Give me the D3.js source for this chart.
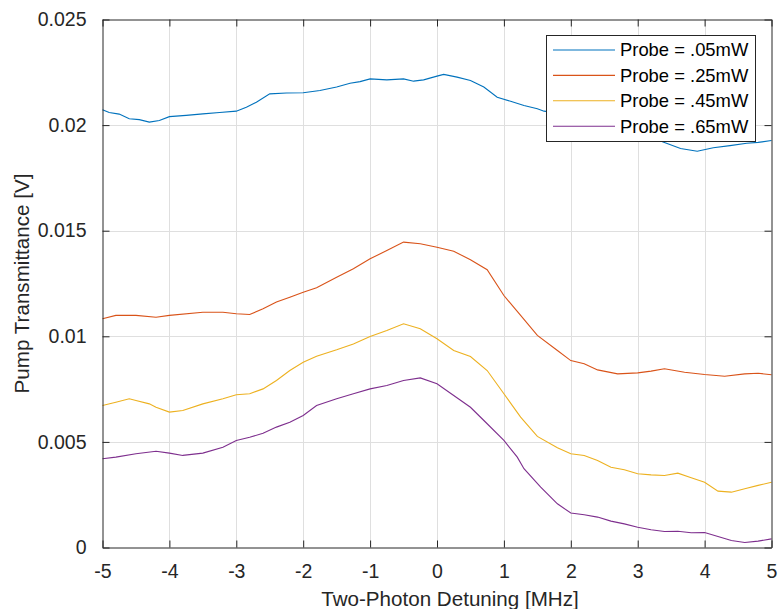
<!DOCTYPE html>
<html>
<head>
<meta charset="utf-8">
<script src="https://cdn.jsdelivr.net/npm/d3@7"></script>
<style>
  body { margin: 0; background: #fff; }
  svg { display: block; font-family: "Liberation Sans", Arial, sans-serif; }
</style>
</head>
<body>
<div class="container"></div>
<script>
// series readings (x in MHz, y in V)
const blueX = [-5, -4.9, -4.75, -4.6, -4.45, -4.3, -4.15, -4.0, -3.75, -3.5, -3.25, -3.0, -2.85, -2.7, -2.5, -2.25, -2.0, -1.75, -1.5, -1.3, -1.15, -1.0, -0.75, -0.5, -0.35, -0.2, 0, 0.1, 0.3, 0.5, 0.7, 0.9, 1.1, 1.3, 1.5, 1.6, 2.0, 2.5, 3.0, 3.38, 3.64, 3.89, 4.13, 4.38, 4.63, 4.8, 5.0]
const blueY = [0.02073, 0.0206, 0.02052, 0.0203, 0.02026, 0.02014, 0.02022, 0.0204, 0.02046, 0.02053, 0.0206, 0.02066, 0.02085, 0.02108, 0.02148, 0.02152, 0.02153, 0.02164, 0.0218, 0.02198, 0.02206, 0.02219, 0.02214, 0.02219, 0.02208, 0.02214, 0.02232, 0.0224, 0.02227, 0.02211, 0.0218, 0.02132, 0.02113, 0.02093, 0.02077, 0.02066, 0.0205, 0.0201, 0.0197, 0.0192, 0.01889, 0.01876, 0.01893, 0.01903, 0.01914, 0.01918, 0.01927]

const orangeX = [-5, -4.8, -4.5, -4.2, -4.0, -3.5, -3.2, -3.0, -2.8, -2.6, -2.4, -2.2, -2.0, -1.8, -1.5, -1.25, -1.0, -0.75, -0.5, -0.25, 0, 0.25, 0.5, 0.75, 1.0, 1.25, 1.5, 1.8, 2.0, 2.2, 2.4, 2.7, 3.0, 3.2, 3.4, 3.7, 4.0, 4.3, 4.6, 4.8, 5.0]
const orangeY = [0.01083, 0.01099, 0.01099, 0.0109, 0.01099, 0.01114, 0.01114, 0.01107, 0.01103, 0.0113, 0.01162, 0.01185, 0.01209, 0.01230, 0.0128, 0.0132, 0.01367, 0.01406, 0.01446, 0.01438, 0.01422, 0.01403, 0.01362, 0.01315, 0.01193, 0.01099, 0.01004, 0.00933, 0.00885, 0.0087, 0.00841, 0.00822, 0.00827, 0.00835, 0.00846, 0.0083, 0.00819, 0.00811, 0.00822, 0.00825, 0.00818]

const yellowX = [-5, -4.8, -4.6, -4.5, -4.3, -4.2, -4.0, -3.8, -3.5, -3.2, -3.0, -2.8, -2.6, -2.4, -2.2, -2.0, -1.8, -1.5, -1.25, -1.0, -0.75, -0.5, -0.25, 0, 0.25, 0.5, 0.75, 1.0, 1.25, 1.5, 1.8, 2.0, 2.2, 2.4, 2.6, 2.8, 3.0, 3.2, 3.4, 3.6, 3.8, 4.0, 4.2, 4.4, 4.6, 4.8, 5.0]
const yellowY = [0.00672, 0.00688, 0.00704, 0.00696, 0.0068, 0.00664, 0.00641, 0.00649, 0.0068, 0.00704, 0.00723, 0.00728, 0.00751, 0.00791, 0.00838, 0.00877, 0.00906, 0.00936, 0.00964, 0.00999, 0.01027, 0.01059, 0.01036, 0.00988, 0.00933, 0.00904, 0.00838, 0.00728, 0.00617, 0.00526, 0.00472, 0.00444, 0.00436, 0.00412, 0.0038, 0.00368, 0.00349, 0.00344, 0.00341, 0.00352, 0.0033, 0.00309, 0.00267, 0.00262, 0.00278, 0.00294, 0.00309]

const purpleX = [-5, -4.8, -4.5, -4.2, -4.0, -3.8, -3.5, -3.2, -3.0, -2.8, -2.6, -2.4, -2.2, -2.0, -1.8, -1.5, -1.25, -1.0, -0.75, -0.5, -0.25, 0, 0.25, 0.5, 0.75, 1.0, 1.2, 1.3, 1.55, 1.8, 2.0, 2.2, 2.4, 2.6, 2.8, 3.0, 3.2, 3.4, 3.6, 3.8, 4.0, 4.2, 4.4, 4.6, 4.8, 5.0]
const purpleY = [0.0042, 0.00428, 0.00444, 0.00456, 0.00447, 0.00436, 0.00447, 0.00475, 0.00507, 0.00522, 0.00541, 0.0057, 0.00593, 0.00625, 0.00672, 0.00704, 0.00728, 0.00751, 0.00767, 0.00791, 0.00803, 0.00775, 0.0072, 0.00664, 0.00586, 0.00507, 0.00428, 0.00373, 0.00286, 0.00207, 0.00163, 0.00155, 0.00144, 0.00125, 0.00112, 0.00096, 0.00084, 0.00076, 0.00077, 0.0007, 0.00071, 0.00052, 0.00033, 0.00024, 0.0003, 0.00041]

const seriesNames = ["Probe = .05mW", "Probe = .25mW", "Probe = .45mW", "Probe = .65mW"]
const xTicks = [-5, -4, -3, -2, -1, 0, 1, 2, 3, 4, 5]
const yTicks = [0, 0.005, 0.01, 0.015, 0.02, 0.025]
const yTickLabels = ["0", "0.005", "0.01", "0.015", "0.02", "0.025"]

const colors = ["#0072BD", "#D95319", "#EDB120", "#7E2F8E"]
const w = 778
const h = 609
const padL = 102.5, padR = 771.5, padT = 19.5, padB = 547.5
const axisColor = "#262626"

const series = [
    [blueX, blueY], [orangeX, orangeY], [yellowX, yellowY], [purpleX, purpleY]
].map(([xs, ys], i) => ({ name: seriesNames[i], color: colors[i], pts: xs.map((x, j) => [x, ys[j]]) }))

const xScale = d3.scaleLinear().domain([-5, 5]).range([padL, padR])
const yScale = d3.scaleLinear().domain([0, 0.025]).range([padB, padT])

const svg = d3.select(".container")
    .append("svg")
    .attr("width", w)
    .attr("height", h)

// grid
svg.append("g")
    .selectAll("line")
    .data(xTicks.slice(1, -1))
    .enter()
    .append("line")
    .attr("x1", d => Math.round(xScale(d)) + 0.5)
    .attr("x2", d => Math.round(xScale(d)) + 0.5)
    .attr("y1", padT)
    .attr("y2", padB)
    .attr("stroke", "#dfdfdf")

svg.append("g")
    .selectAll("line")
    .data(yTicks.slice(1, -1))
    .enter()
    .append("line")
    .attr("y1", d => Math.round(yScale(d)) + 0.5)
    .attr("y2", d => Math.round(yScale(d)) + 0.5)
    .attr("x1", padL)
    .attr("x2", padR)
    .attr("stroke", "#dfdfdf")

// data lines
const line = d3.line()
    .x(d => xScale(d[0]))
    .y(d => yScale(d[1]))

svg.append("g")
    .selectAll("path")
    .data(series)
    .enter()
    .append("path")
    .attr("d", d => line(d.pts))
    .attr("fill", "none")
    .attr("stroke", d => d.color)
    .attr("stroke-width", 1.1)

// axes: bottom/left with labels, top/right ticks only (box on, ticks inward)
const tickLen = 7
svg.append("g")
    .attr("transform", `translate(0, ${padB})`)
    .call(d3.axisBottom(xScale).tickValues(xTicks).tickSizeInner(-tickLen).tickSizeOuter(0).tickPadding(14).tickFormat(d => String(d)))
    .call(g => g.selectAll("text").attr("font-size", 19.5).attr("fill", axisColor).attr("dy", "0.85em"))

svg.append("g")
    .attr("transform", `translate(${padL}, 0)`)
    .call(d3.axisLeft(yScale).tickValues(yTicks).tickSizeInner(-tickLen).tickSizeOuter(0).tickPadding(16).tickFormat((d, i) => yTickLabels[i]))
    .call(g => g.selectAll("text").attr("font-size", 19.5).attr("fill", axisColor))

svg.append("g")
    .attr("transform", `translate(0, ${padT})`)
    .call(d3.axisTop(xScale).tickValues(xTicks).tickSizeInner(-tickLen).tickSizeOuter(0).tickFormat(""))

svg.append("g")
    .attr("transform", `translate(${padR}, 0)`)
    .call(d3.axisRight(yScale).tickValues(yTicks).tickSizeInner(-tickLen).tickSizeOuter(0).tickFormat(""))

svg.selectAll(".domain, .tick line").attr("stroke", axisColor)
svg.selectAll(".tick text").attr("font-family", "'Liberation Sans', Arial, sans-serif")

// axis labels
svg.append("text")
    .attr("x", 450)
    .attr("y", 606)
    .attr("text-anchor", "middle")
    .attr("font-size", 20.6)
    .attr("fill", axisColor)
    .text("Two-Photon Detuning [MHz]")

svg.append("text")
    .attr("transform", `translate(29, ${(padT + padB) / 2}) rotate(-90)`)
    .attr("text-anchor", "middle")
    .attr("font-size", 20.6)
    .attr("fill", axisColor)
    .text("Pump Transmittance [V]")

// legend
const lg = svg.append("g")
lg.append("rect")
    .attr("x", 546.5)
    .attr("y", 35.5)
    .attr("width", 209)
    .attr("height", 106)
    .attr("fill", "#fff")
    .attr("stroke", axisColor)

const rows = lg.selectAll("g.row")
    .data(series)
    .enter()
    .append("g")
    .attr("class", "row")
    .attr("transform", (d, i) => `translate(0, ${50 + i * 25.4})`)

rows.append("line")
    .attr("x1", 553)
    .attr("x2", 615)
    .attr("stroke", d => d.color)
    .attr("stroke-width", 1.1)

rows.append("text")
    .attr("x", 620)
    .attr("dy", "0.35em")
    .attr("font-size", 18.4)
    .attr("fill", "#000")
    .text(d => d.name)
</script>
</body>
</html>
